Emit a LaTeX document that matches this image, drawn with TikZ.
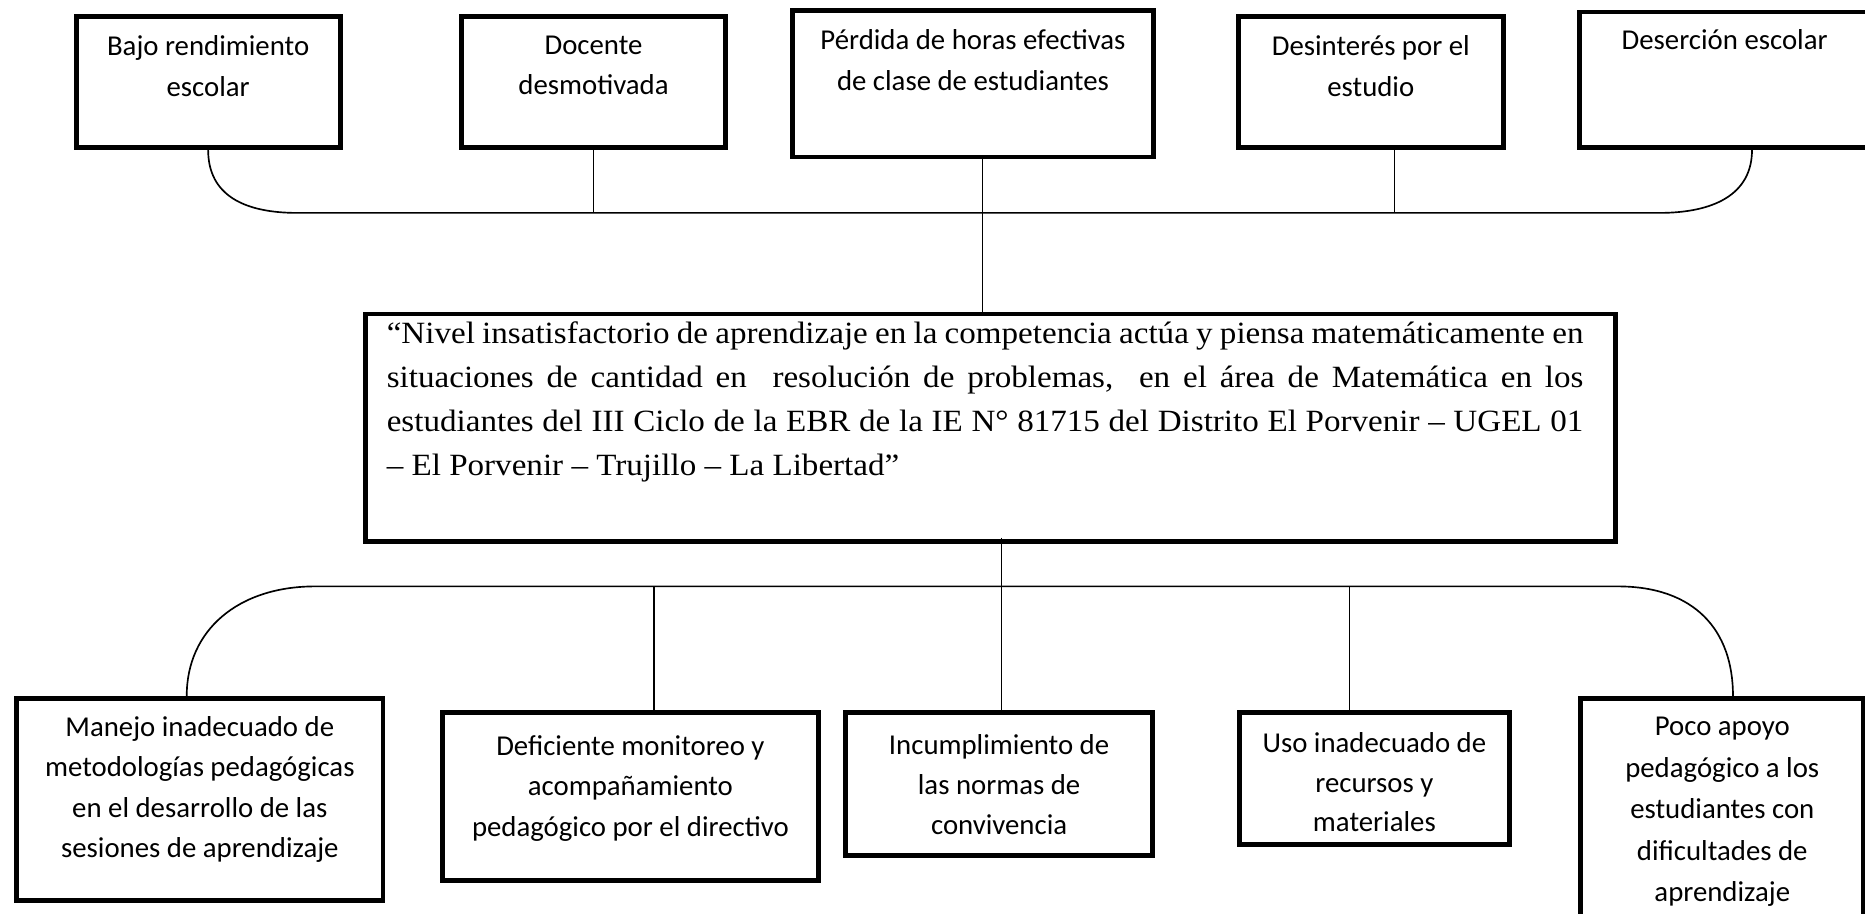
\documentclass[tikz,border=0pt]{standalone}
\usepackage{fontspec}
\setmainfont{Carlito}
\newfontfamily\tnr[FakeStretch=1.07]{Liberation Serif}
\begin{document}
\begin{tikzpicture}[x=1pt,y=-1pt,
  box/.style={draw=black, line width=4pt, fill=white, anchor=north west, inner sep=0pt},
  lbl/.style={font=\fontsize{24.2}{34}\selectfont, align=center, anchor=north, inner sep=0pt},
  conn/.style={line width=1.4pt}]
\clip (0,0) rectangle (1568,768);
\fill[white] (0,0) rectangle (1568,768);

% top row (effects)
\node[box, minimum width=222pt, minimum height=110pt] (t1) at (62,12) {};
\node[box, minimum width=222pt, minimum height=110pt] (t2) at (386,12) {};
\node[box, minimum width=304pt, minimum height=123pt] (t3) at (664,7) {};
\node[box, minimum width=223pt, minimum height=110pt] (t4) at (1039,12) {};
\node[box, minimum width=244pt, minimum height=114pt] (t5) at (1326,8) {};

\node[lbl] (t1t) at (t1.north |- 0,30) {Bajo rendimiento\\escolar};
\node[lbl] (t2t) at (t2.north |- 0,30) {Docente\\desmotivada};
\node[lbl] (t3t) at (t3.north |- 0,25) {Pérdida de horas efectivas\\de clase de estudiantes};
\node[lbl] (t4t) at (t4.north |- 0,30) {Desinterés por el\\estudio};
\node[lbl] (t5t) at (t5.north |- 0,25) {Deserción escolar};

% central problem
\node[box, minimum width=1051pt, minimum height=191pt] (main) at (305,262) {};
\node[anchor=north west, inner sep=0pt, align=left,
      font=\tnr\fontsize{26}{37}\selectfont] (maint) at (325,270)
 {\makebox[1006pt][s]{“Nivel insatisfactorio de aprendizaje en la competencia actúa y piensa matemáticamente en}\\
  \makebox[1006pt][s]{situaciones de cantidad en\ \ resolución de problemas,\ \ en el área de Matemática en los}\\
  \makebox[1006pt][s]{estudiantes del III Ciclo de la EBR de la IE N° 81715 del Distrito El Porvenir – UGEL 01}\\
  – El Porvenir – Trujillo – La Libertad”};

% bottom row (causes)
\node[box, minimum width=308pt, minimum height=170pt] (b1) at (12,585) {};
\node[box, minimum width=316pt, minimum height=141pt] (b2) at (370,597) {};
\node[box, minimum width=258pt, minimum height=120pt] (b3) at (709,597) {};
\node[box, minimum width=227pt, minimum height=111pt] (b4) at (1040,597) {};
\node[box, minimum width=238pt, minimum height=205pt] (b5) at (1327,585) {};

\node[lbl] (b1t) at (b1.north |- 0,602) {Manejo inadecuado de\\metodologías pedagógicas\\en el desarrollo de las\\sesiones de aprendizaje};
\node[lbl] (b2t) at (b2.north |- 0,618) {Deficiente monitoreo y\\acompañamiento\\pedagógico por el directivo};
\node[lbl] (b3t) at (b3.north |- 0,617) {Incumplimiento de\\las normas de\\convivencia};
\node[lbl, font=\fontsize{24.2}{33}\selectfont] (b4t) at (b4.north |- 0,616) {Uso inadecuado de\\recursos y\\materiales};
\node[lbl, font=\fontsize{24.2}{34.8}\selectfont] (b5t) at (b5.north |- 0,603) {Poco apoyo\\pedagógico a los\\estudiantes con\\dificultades de\\aprendizaje};

% top connector
\coordinate (tl) at (250,179);
\coordinate (tr) at (1395,179);
\draw[conn] (t1.south) .. controls +(0,38) and +(-45,0) .. (tl) -- (tr)
            .. controls +(45,0) and +(0,38) .. ([xshift=23pt]t5.south);
\draw[conn] (t2.south) -- (t2.south |- tl);
\draw[conn] ([xshift=20pt]t4.south) -- ([xshift=20pt]t4.south |- tl);
\draw[conn] ([xshift=8pt]t3.south) -- ([xshift=8pt]t3.south |- main.north);

% bottom connector
\coordinate (bl) at (265,493);
\coordinate (br) at (1360,493);
\draw[conn] ([xshift=-11pt]b1.north) .. controls +(0,-55) and +(-65,0) .. (bl) -- (br)
            .. controls +(65,0) and +(0,-55) .. ([xshift=9pt]b5.north);
\draw[conn] ([xshift=20pt]b2.north) -- ([xshift=20pt]b2.north |- bl);
\draw[conn] ([xshift=-21pt]b4.north) -- ([xshift=-21pt]b4.north |- bl);
\draw[conn] ([xshift=2pt,yshift=5pt]b3.north |- main.south) -- ([xshift=2pt]b3.north);
\end{tikzpicture}
\end{document}
